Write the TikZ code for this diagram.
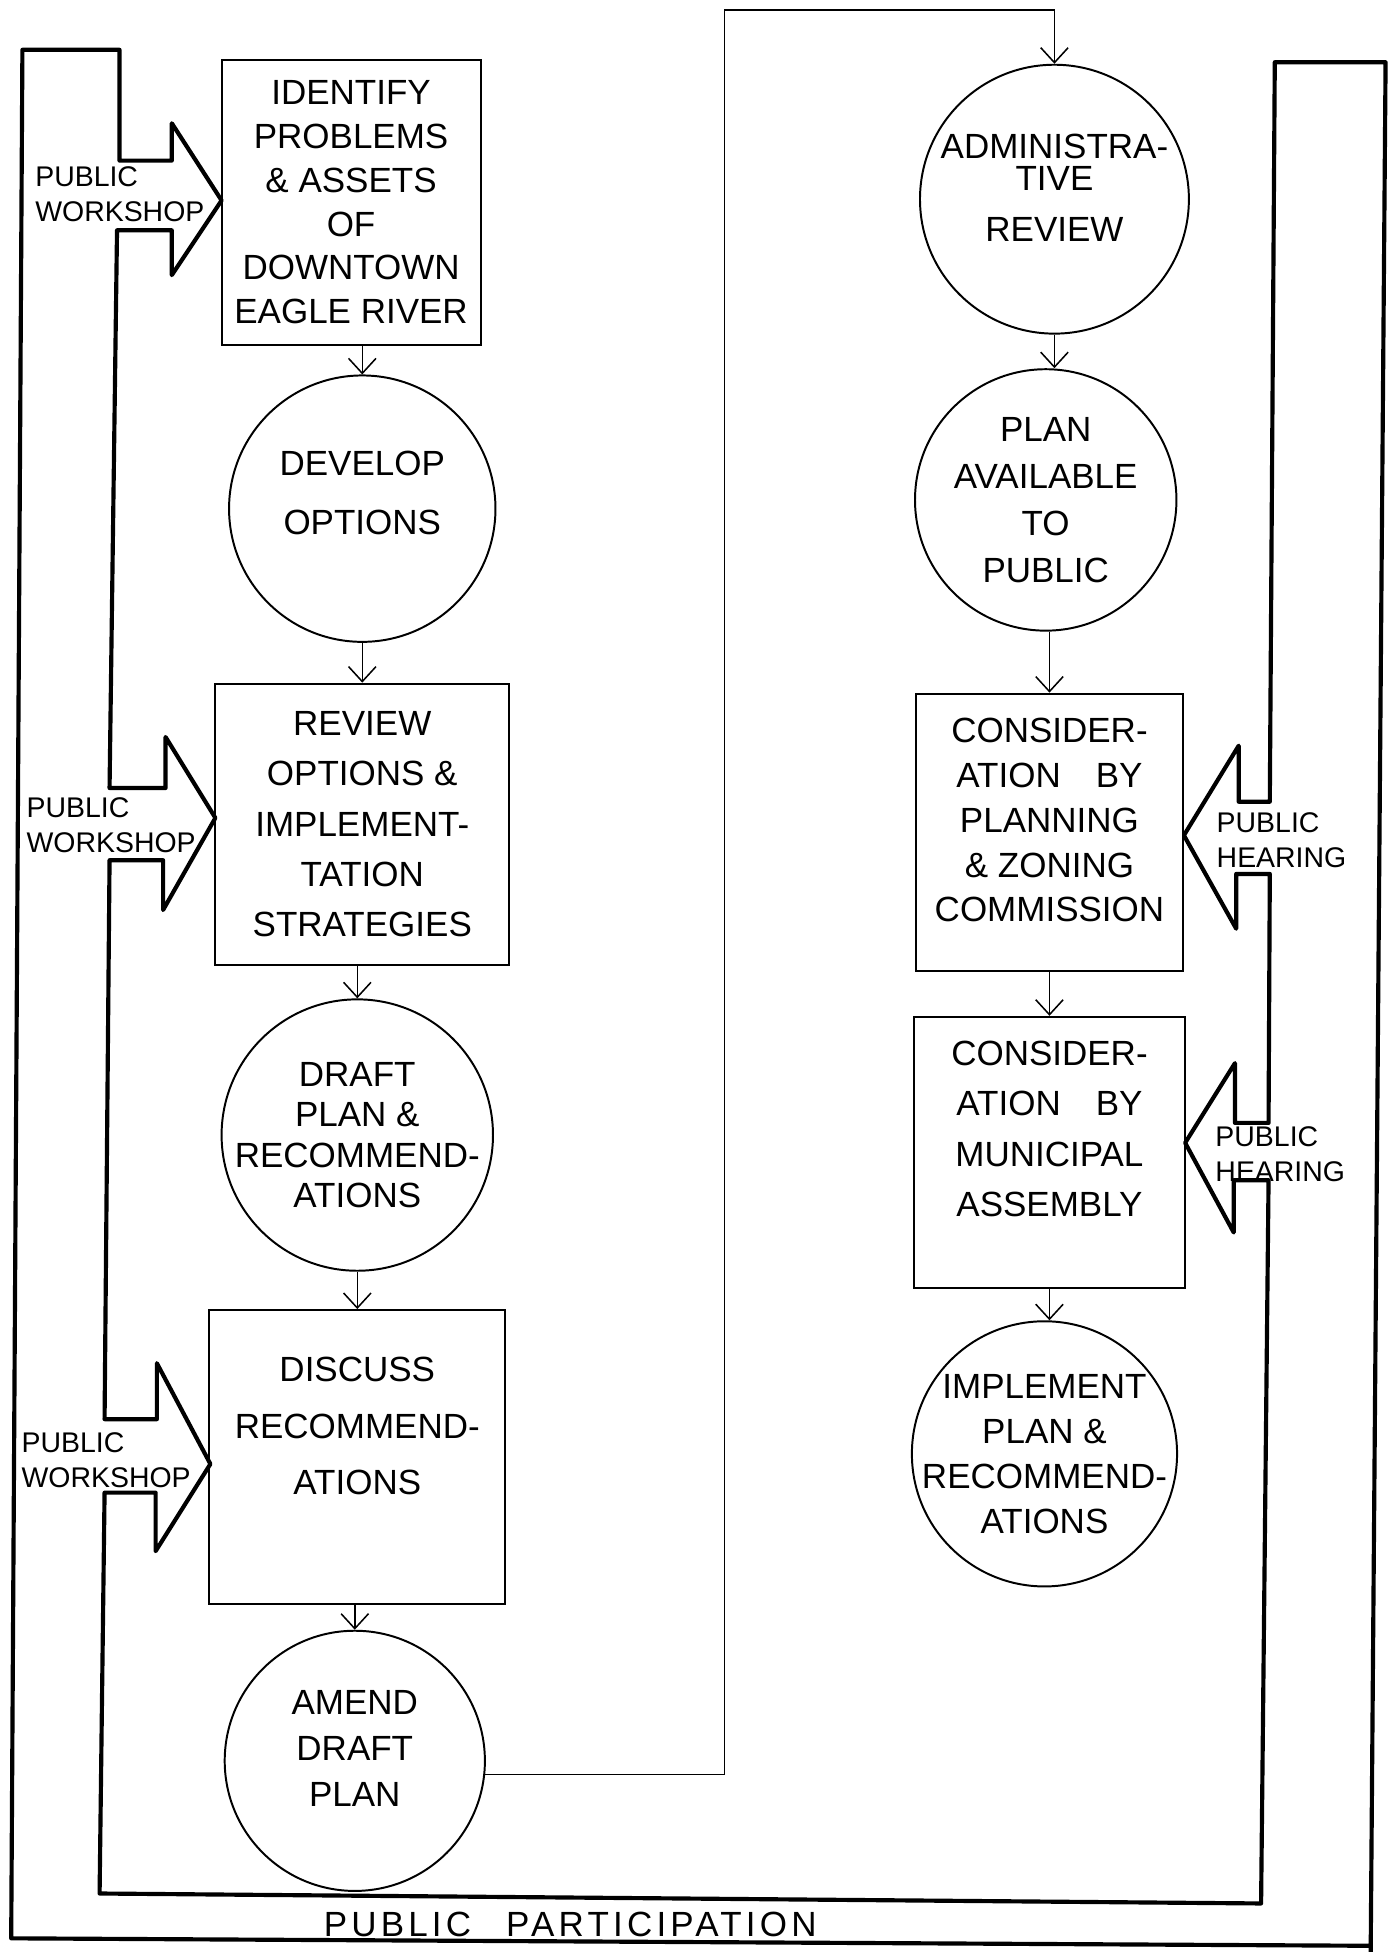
\documentclass[tikz,border=0pt]{standalone}
\usepackage{fontspec}
\setmainfont{Liberation Sans}
\usetikzlibrary{arrows.meta, positioning}

\begin{document}
\begin{tikzpicture}[
  x=0.2mm, y=-0.2mm,
  stage/.style={rectangle, draw, line width=0.9pt, align=center,
    inner sep=2pt, font=\fontsize{16}{20}\selectfont},
  phase/.style={circle, draw, line width=0.9pt, align=center,
    inner sep=-1cm, font=\fontsize{16}{20}\selectfont},
  arr/.style={-{Straight Barb[length=2.4mm,width=4.4mm]}, line width=0.7pt},
  pipe/.style={line width=1.9pt, line join=round},
  note/.style={align=left, anchor=west, inner sep=0pt,
    font=\fontsize{13}{16}\selectfont},
]
  \useasboundingbox (0,0) rectangle (1121,1568);

  % left column
  \node[stage, minimum width=4.16cm, minimum height=4.58cm] (identify) at (282,162.5)
    {IDENTIFY\\PROBLEMS\\\& ASSETS\\OF\\DOWNTOWN\\EAGLE RIVER};
  \node[phase, minimum size=4.28cm, text depth=0.52cm, font=\fontsize{16}{27}\selectfont,
    below=0.46cm of identify, xshift=0.18cm] (develop) {DEVELOP\\OPTIONS};
  \node[stage, minimum width=4.72cm, minimum height=4.52cm, font=\fontsize{16}{23}\selectfont,
    below=0.64cm of develop] (review)
    {REVIEW\\OPTIONS \&\\IMPLEMENT-\\TATION\\STRATEGIES};
  \node[phase, minimum size=4.36cm, font=\fontsize{16}{18.5}\selectfont,
    below=0.52cm of review, xshift=-0.08cm] (draft)
    {DRAFT\\PLAN \&\\RECOMMEND-\\ATIONS};
  \node[stage, minimum width=4.76cm, minimum height=4.72cm, text depth=1cm,
    font=\fontsize{16}{26}\selectfont, below=0.6cm of draft] (discuss)
    {DISCUSS\\RECOMMEND-\\ATIONS};
  \node[phase, minimum size=4.18cm, text depth=0.4cm, font=\fontsize{16}{21}\selectfont,
    below=0.4cm of discuss, xshift=-0.04cm] (amend) {AMEND\\DRAFT\\PLAN};

  % right column
  \node[phase, minimum size=4.32cm, text depth=0.36cm] (admin) at (847,160)
    {ADMINISTRA-\\[-5.7pt]TIVE\\[3.4pt]REVIEW};
  \node[phase, minimum size=4.2cm, font=\fontsize{16}{21.5}\selectfont,
    below=0.54cm of admin, xshift=-0.14cm] (avail) {PLAN\\AVAILABLE\\TO\\PUBLIC};
  \node[stage, minimum width=4.3cm, minimum height=4.46cm, text depth=0.4cm,
    font=\fontsize{16}{20.5}\selectfont, below=0.98cm of avail, xshift=0.06cm] (planning)
    {CONSIDER-\\ATION\quad BY\\PLANNING\\\& ZONING\\COMMISSION};
  \node[stage, minimum width=4.36cm, minimum height=4.36cm, text depth=0.76cm,
    font=\fontsize{16}{23}\selectfont, below=0.7cm of planning] (assembly)
    {CONSIDER-\\ATION\quad BY\\MUNICIPAL\\ASSEMBLY};
  \node[phase, minimum size=4.26cm, font=\fontsize{16}{20.5}\selectfont,
    below=0.5cm of assembly, xshift=-0.08cm] (implement)
    {IMPLEMENT\\PLAN \&\\RECOMMEND-\\ATIONS};

  % flow
  \draw[arr] (develop.north |- identify.south) -- (develop.north);
  \draw[arr] (develop.south) -- (review.north);
  \draw[arr] (draft.north |- review.south) -- (draft.north);
  \draw[arr] (draft.south) -- (discuss.north);
  \draw[arr] (amend.north |- discuss.south) -- (amend.north);
  \coordinate (jog) at (582,8);
  \draw[arr] (amend.-6) -| (jog) -| (admin.north);
  \draw[arr] (admin.south) -- (admin.south |- avail.north);
  \draw[arr] (planning.north |- avail.south) -- (planning.north);
  \draw[arr] (planning.south) -- (assembly.north);
  \draw[arr] (assembly.south) -- (assembly.south |- implement.north);

  % public participation band
  \draw[pipe] (1101,1572) -- (1113,50) -- (1024,50) -- (1020,644) -- (995,644)
    -- (995,599) -- (951,671) -- (993,746) -- (993,702) -- (1020,702)
    -- (1019,902) -- (992,902) -- (992,854) -- (952,918) -- (991,990)
    -- (991,948) -- (1019,948) -- (1013,1529) -- (80,1521)
    -- (84,1199) -- (125,1199) -- (125,1246) -- (169,1176) -- (126,1095)
    -- (126,1140) -- (84,1140) -- (88,691) -- (131,691) -- (131,731)
    -- (173,657) -- (133,592) -- (133,633) -- (88,633) -- (94,185)
    -- (138,185) -- (138,221) -- (178,161) -- (138,99) -- (138,129)
    -- (96,129) -- (96,40) -- (18,40) -- (9,1557) -- (1101,1563);

  \node[note] (pw1) at (28,156) {PUBLIC\\WORKSHOP};
  \node[note] (pw2) at (21,663) {PUBLIC\\WORKSHOP};
  \node[note] (pw3) at (17,1173) {PUBLIC\\WORKSHOP};
  \node[note] (ph1) at (977,675) {PUBLIC\\HEARING};
  \node[note] (ph2) at (976,927) {PUBLIC\\HEARING};
  \node[font=\fontsize{16}{20}\selectfont\addfontfeature{LetterSpace=12}] (pp)
    at (458,1546) {PUBLIC\quad PARTICIPATION};
\end{tikzpicture}
\end{document}
